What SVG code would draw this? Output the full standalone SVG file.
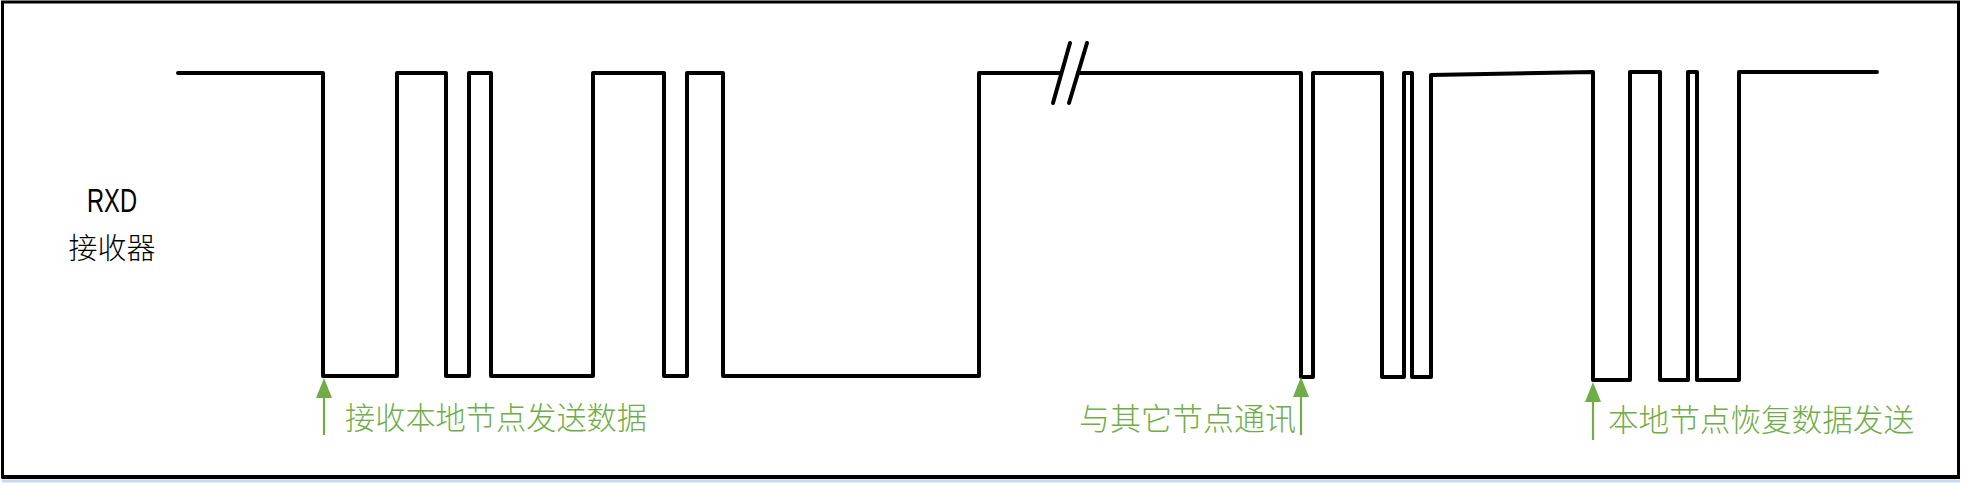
<svg xmlns="http://www.w3.org/2000/svg" width="1965" height="487" viewBox="0 0 1965 487">
<style>
.wave{fill:none;stroke:#000;stroke-width:4;stroke-linejoin:round;stroke-linecap:round}
.arr{stroke:#70AD47;stroke-width:2.2;fill:none}
.head{fill:#70AD47}
.lbl{font-family:"Noto Sans CJK SC","Liberation Sans",sans-serif;font-size:31px;font-weight:300;fill:#70AD47}
.sig{font-family:"Liberation Sans","Noto Sans CJK SC",sans-serif;fill:#000}
</style>
<rect width="1965" height="487" fill="#fff"/>
<g id="frame">
<line x1="2" y1="481" x2="1960" y2="481" stroke="#C6D9F1" stroke-width="3"/>
<rect x="2.5" y="2" width="1956" height="475" fill="none" stroke="#000" stroke-width="3"/>
<line x1="2" y1="477" x2="1960" y2="477" stroke="#000" stroke-width="4"/>
</g>
<g id="signal-label">
<text class="sig" x="112" y="212" font-size="33" text-anchor="middle" textLength="50" lengthAdjust="spacingAndGlyphs">RXD</text>
<text class="sig" x="112" y="259" font-size="29" font-weight="300" text-anchor="middle" style="font-family:'Noto Sans CJK SC',sans-serif">接收器</text>
</g>
<g id="connectors">
<path class="wave" d="M178,73 H323 V376 H397 V73 H446 V376 H469 V73 H491 V376 H593 V73 H664 V376 H687 V73 H723 V376 H979 V73 H1061"/>
<path class="wave" d="M1078,73 H1301 V377 H1313 V73 H1382 V377 H1404 V73 H1412 V377 H1431 V75 L1593,72 V380 H1630 V72 H1660 V380 H1688 V72 H1697 V380 H1739 V72 H1877"/>
<line class="wave" x1="1070" y1="43" x2="1053" y2="103"/>
<line class="wave" x1="1087" y1="43" x2="1069" y2="103"/>
</g>
<g id="marker1">
<line class="arr" x1="324" y1="435" x2="324" y2="395"/>
<polygon class="head" points="316,398 332,398 324,378"/>
<text class="lbl" x="345" y="429" textLength="302" lengthAdjust="spacingAndGlyphs">接收本地节点发送数据</text>
</g>
<g id="marker2">
<line class="arr" x1="1301" y1="435" x2="1301" y2="395"/>
<polygon class="head" points="1293,397 1309,397 1301,377"/>
<text class="lbl" x="1079" y="430" textLength="217" lengthAdjust="spacingAndGlyphs">与其它节点通讯</text>
</g>
<g id="marker3">
<line class="arr" x1="1593" y1="440" x2="1593" y2="400"/>
<polygon class="head" points="1585,402 1601,402 1593,382"/>
<text class="lbl" x="1608" y="431" textLength="306" lengthAdjust="spacingAndGlyphs">本地节点恢复数据发送</text>
</g>
</svg>
